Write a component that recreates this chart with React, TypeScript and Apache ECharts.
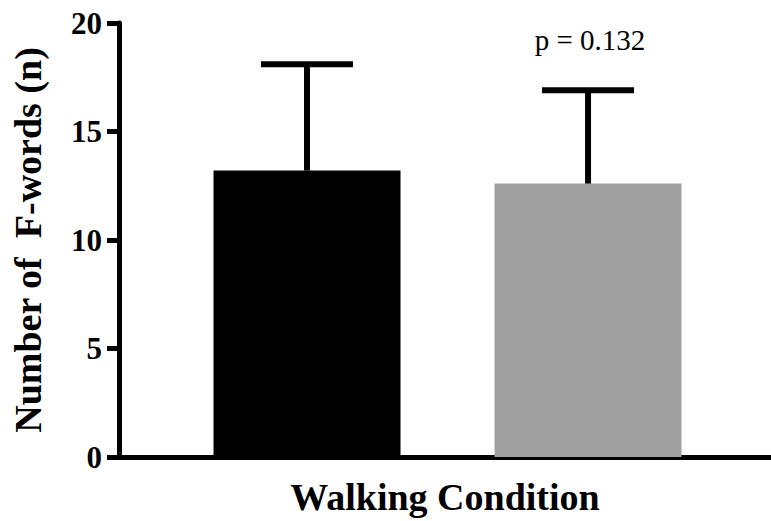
import React, { useEffect, useRef } from "react";
import * as echarts from "echarts";

const conditions = ["Condition A", "Condition B"];
const positions = [1, 2];
const means = [13.2, 12.6];
const sds = [4.9, 4.3];
const barColors = ["#000000", "#a0a0a0"];
const yTicks = [0, 5, 10, 15, 20];
const pLabel = "p = 0.132";

export default function App() {
  const ref = useRef<HTMLDivElement>(null);
  useEffect(() => {
    if (!ref.current) return;
    const chart = echarts.init(ref.current, null, { renderer: "svg" });
    const font = "'Liberation Serif', 'Times New Roman', serif";
    chart.setOption({
      animation: false,
      backgroundColor: "#ffffff",
      grid: { left: 119, right: 0, top: 23, bottom: 62 },
      xAxis: {
        type: "value",
        min: 0.331,
        max: 2.651,
        name: "Walking Condition",
        nameLocation: "middle",
        nameGap: 21,
        nameTextStyle: { fontFamily: font, fontWeight: "bold", fontSize: 38, color: "#000" },
        axisLine: { show: true, onZero: false, lineStyle: { color: "#000", width: 5 } },
        axisTick: { show: false },
        axisLabel: { show: false },
        splitLine: { show: false },
      },
      yAxis: {
        type: "value",
        min: yTicks[0],
        max: yTicks[yTicks.length - 1],
        interval: 5,
        name: "Number of  F-words (n)",
        nameLocation: "middle",
        nameGap: 72,
        nameTextStyle: { fontFamily: font, fontWeight: "bold", fontSize: 38, color: "#000" },
        axisLine: { show: true, lineStyle: { color: "#000", width: 5 } },
        axisTick: { show: true, length: 12, lineStyle: { color: "#000", width: 5 } },
        axisLabel: { margin: 17, fontFamily: font, fontWeight: "bold", fontSize: 31, color: "#000" },
        splitLine: { show: false },
      },
      series: [
        {
          type: "bar",
          barWidth: 187,
          data: positions.map((p, i) => ({
            name: conditions[i],
            value: [p, means[i]],
            itemStyle: { color: barColors[i] },
          })),
          z: 2,
        },
        {
          type: "custom",
          z: 3,
          data: positions.map((p, i) => [p, means[i], means[i] + sds[i]]),
          renderItem: (params: any, api: any) => {
            const x = api.value(0);
            const lo = api.coord([x, api.value(1)]);
            const hi = api.coord([x, api.value(2)]);
            const half = 46;
            return {
              type: "group",
              children: [
                {
                  type: "line",
                  shape: { x1: lo[0], y1: lo[1], x2: hi[0], y2: hi[1] },
                  style: { stroke: "#000", lineWidth: 6 },
                },
                {
                  type: "line",
                  shape: { x1: hi[0] - half, y1: hi[1], x2: hi[0] + half, y2: hi[1] },
                  style: { stroke: "#000", lineWidth: 6 },
                },
              ],
            };
          },
        },
      ],
      graphic: [
        {
          type: "text",
          x: 590,
          y: 40,
          style: {
            text: pLabel,
            fontFamily: font,
            fontSize: 29,
            fill: "#000",
            align: "center",
            verticalAlign: "middle",
          },
        },
      ],
    });
    return () => chart.dispose();
  }, []);
  return (
    <div
      ref={ref}
      style={{ position: "absolute", left: 0, top: 0, width: 771, height: 521 }}
    />
  );
}
